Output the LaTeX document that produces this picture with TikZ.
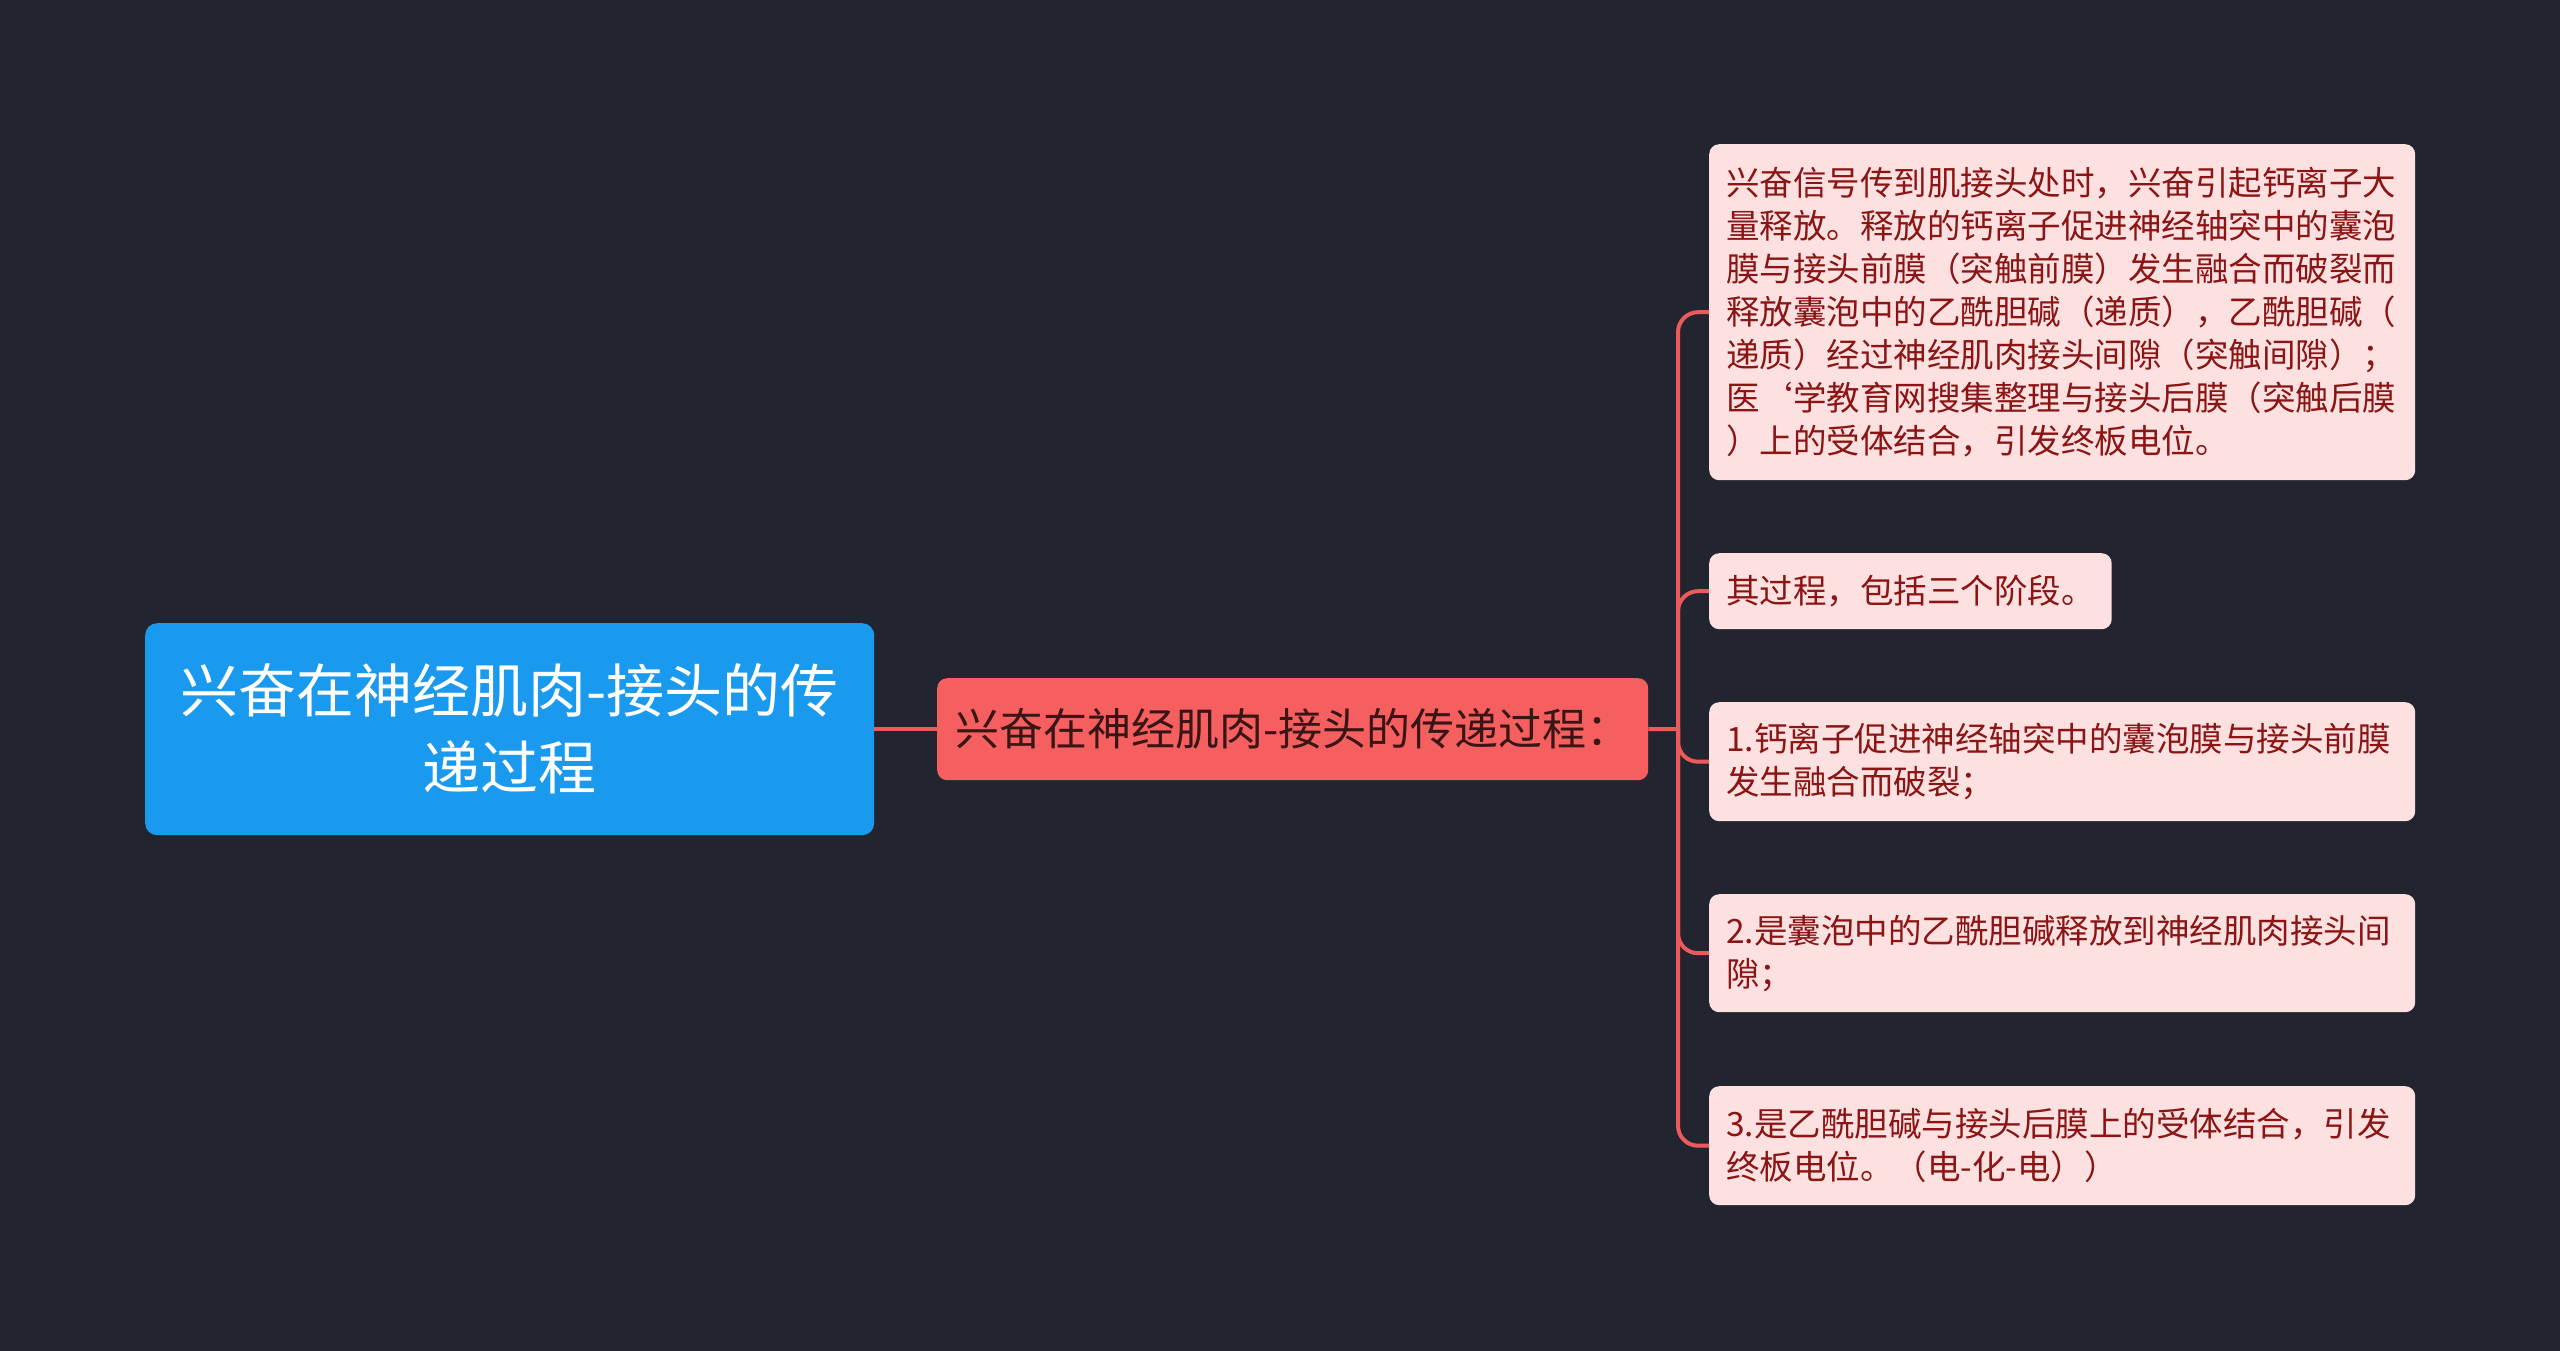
\documentclass[tikz,border=0pt]{standalone}
\usepackage{fontspec}
\usepackage{xcolor}
\setmainfont{Noto Sans CJK SC}
\usepackage{tikz}
\usetikzlibrary{positioning}

\definecolor{bgdark}{HTML}{22252F}
\definecolor{rootblue}{HTML}{1A9AEF}
\definecolor{midred}{HTML}{F55F5F}
\definecolor{midtext}{HTML}{3A1515}
\definecolor{leafpink}{HTML}{FDE1E1}
\definecolor{leaftext}{HTML}{8B1414}
\definecolor{linkred}{HTML}{EC5A5C}

\begin{document}
\begin{tikzpicture}[x=1pt, y=-1pt]
        \tikzstyle{rootbox}=[rectangle,rounded corners=12pt,fill=rootblue,text=white,align=center,minimum width=729pt,minimum height=212pt,inner sep=0pt,font=\fontsize{58}{77}\selectfont]
        \tikzstyle{midbox}=[rectangle,rounded corners=10pt,fill=midred,text=midtext,minimum width=711pt,minimum height=102pt,inner sep=0pt,font=\fontsize{44}{52}\selectfont]
        \tikzstyle{leaf}=[rectangle,rounded corners=10pt,fill=leafpink,text=leaftext,align=left,inner xsep=17pt,inner ysep=0pt,font=\fontsize{33.5}{43}\selectfont]
        \tikzstyle{link}=[draw=linkred,line width=4pt]

        % Draw the background
        \useasboundingbox (0,0) rectangle (2560,1350);
        \fill[bgdark] (-10,-10) rectangle (2570,1360);

        % Draw the root and the middle node
        \node[rootbox, anchor=north west] (R) at (145,623) {兴奋在神经肌肉-接头的传\\递过程};
        \node[midbox, anchor=north west] (M) at (937,678) {兴奋在神经肌肉-接头的传递过程：};
        \coordinate (S) at (1678,729);

        % Draw the leaf nodes
        \node[leaf, anchor=north west, text width=672pt, minimum height=336pt] (L-1) at (1709,144)
            {兴奋信号传到肌接头处时，兴奋引起钙离子大\\量释放。释放的钙离子促进神经轴突中的囊泡\\膜与接头前膜（突触前膜）发生融合而破裂而\\释放囊泡中的乙酰胆碱（递质），乙酰胆碱（\\递质）经过神经肌肉接头间隙（突触间隙）；\\医{\char96}学教育网搜集整理与接头后膜（突触后膜\\）上的受体结合，引发终板电位。};
        \node[leaf, anchor=north west, minimum height=76pt] (L-2) at (1709,553)
            {其过程，包括三个阶段。};
        \node[leaf, anchor=north west, text width=672pt, minimum height=119pt] (L-3) at (1709,702)
            {1.钙离子促进神经轴突中的囊泡膜与接头前膜\\发生融合而破裂；};
        \node[leaf, anchor=north west, text width=672pt, minimum height=118pt] (L-4) at (1709,894)
            {2.是囊泡中的乙酰胆碱释放到神经肌肉接头间\\隙；};
        \node[leaf, anchor=north west, text width=672pt, minimum height=119pt] (L-5) at (1709,1086)
            {3.是乙酰胆碱与接头后膜上的受体结合，引发\\终板电位。（电-化-电））};

        % Connect the root with the middle node
        \path[link] (R.east) -- (M.west);
        \path[link] (M.east) -- (S);

        % Connect the middle node with every leaf
        \foreach \dest in {1,...,5}
            \path[link, rounded corners=20pt] (S) |- (L-\dest.west);
\end{tikzpicture}
\end{document}
